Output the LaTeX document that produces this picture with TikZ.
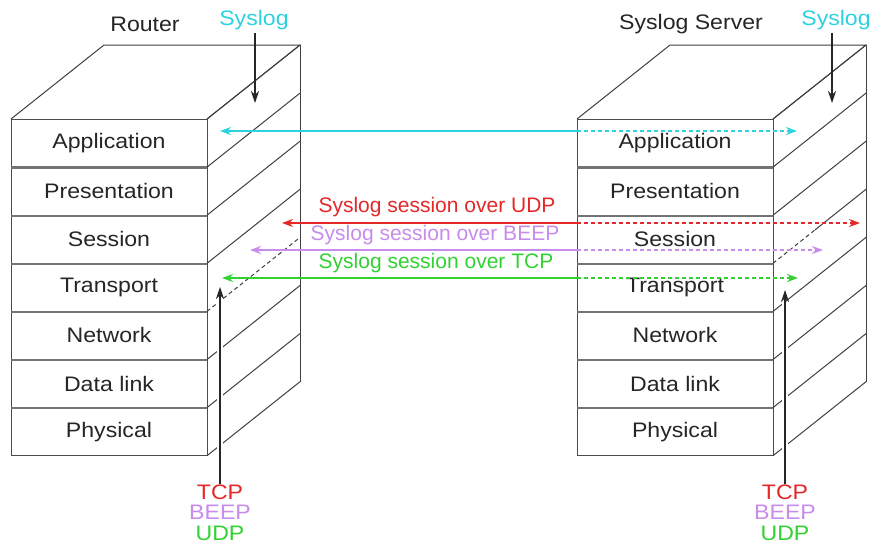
\documentclass[tikz,border=0pt]{standalone}
\usepackage{fontspec}
\setmainfont{Liberation Sans}
\newfontfamily\widefont{Liberation Sans}[FakeStretch=1.1]
\usetikzlibrary{arrows.meta}
\definecolor{cy}{RGB}{45,210,225}
\definecolor{rd}{RGB}{228,40,40}
\definecolor{pu}{RGB}{200,140,235}
\definecolor{gr}{RGB}{50,210,50}
\tikzset{
  layer/.style={draw=black!70, line width=0.9pt, minimum width=196pt, minimum height=48.1pt,
    inner sep=0pt, font=\widefont\fontsize{21}{24}\selectfont, text=black!85},
  sepline/.style={draw=black!55, line width=2.2pt},
  edgeline/.style={draw=black!75, line width=1pt},
  tip/.style={-{Stealth[length=11pt,width=8pt]}},
  blktip/.style={-{Stealth[length=12pt,width=8pt]}, line width=1.1pt, black!85},
  lbl/.style={font=\widefont\fontsize{21}{24}\selectfont, inner sep=0pt},
  sess/.style={font=\fontsize{21}{24}\selectfont, inner sep=0pt},
  dsh/.style={dash pattern=on 4pt off 3pt},
}
\begin{document}
\begin{tikzpicture}[x=1pt,y=-1pt]
\useasboundingbox[fill=white] (0,0) rectangle (877,557);

% ---------- stacks ----------
\foreach \X/\P in {11/L,577/R}{
  \draw[edgeline] (\X,119) -- (\X+93,45) -- (\X+289,45) -- (\X+196,119);
  \draw[edgeline] (\X+289,45) -- (\X+289,381.7);
  \foreach \n [count=\i from 0] in {Application,Presentation,Session,Transport,Network,Data link,Physical}{
    \node[layer] (\P\i) at (\X+98,143.05+48.1*\i) {\n};
  }
  \foreach \i in {0,...,5}{
    \draw[sepline] (\P\i.south west) -- (\P\i.south east);
  }
}
% diagonals, left stack
\foreach \i in {0,1,2,3,5,6,7}{
  \draw[edgeline] (207,119+48.1*\i) -- (300,45+48.1*\i);
}
\draw[edgeline,dsh] (207,311.4) -- (300,237.4);
% diagonals, right stack
\foreach \i in {0,1,2,4,5,6,7}{
  \draw[edgeline] (773,119+48.1*\i) -- (866,45+48.1*\i);
}
\draw[edgeline,dsh] (773,263.3) -- (815,229.9);
\draw[edgeline] (815,229.9) -- (866,189.3);

% ---------- top labels ----------
\node[lbl, text=black!85] (router) at (145,24) {Router};
\node[lbl, text=cy] (sysL) at (254,20) {Syslog};
\node[lbl, text=black!85] (server) at (691,24) {Syslog Server};
\node[lbl, text=cy] (sysR) at (836,20) {Syslog};
\coordinate (sysLtip) at (255,103);
\coordinate (sysRtip) at (832,103);
\draw[blktip] (sysL.south -| sysLtip) ++(0,3) -- (sysLtip);
\draw[blktip] (sysR.south -| sysRtip) ++(0,3) -- (sysRtip);

% ---------- bottom labels ----------
\node[lbl, text=rd] (tcpL) at (220,492) {TCP};
\node[lbl, text=pu] (beepL) at (220,512) {BEEP};
\node[lbl, text=gr] (udpL) at (220,533) {UDP};
\node[lbl, text=rd] (tcpR) at (785,492) {TCP};
\node[lbl, text=pu] (beepR) at (785,512) {BEEP};
\node[lbl, text=gr] (udpR) at (785,533) {UDP};
\coordinate (upLtip) at (220,287);
\coordinate (upRtip) at (785,290);
\draw[white, line width=6pt] (220,300) -- (220,462);
\draw[white, line width=6pt] (785,302) -- (785,462);
\draw[blktip] (tcpL.north) -- (upLtip);
\draw[blktip] (tcpR.north) -- (upRtip);

% ---------- session arrows ----------
\coordinate (cyL) at (220,131);  \coordinate (cyM) at (577,131);  \coordinate (cyR) at (797,131);
\coordinate (rdL) at (282,223);  \coordinate (rdM) at (577,223);  \coordinate (rdR) at (860,223);
\coordinate (puL) at (250,250);  \coordinate (puM) at (577,250);  \coordinate (puR) at (823,250);
\coordinate (grL) at (222,278);  \coordinate (grM) at (577,278);  \coordinate (grR) at (798,278);

\draw[cy, line width=1.5pt, tip] (cyM) -- (cyL);
\draw[cy, line width=1.5pt, tip, dsh] (cyM) -- (cyR);
\draw[rd, line width=2.2pt, tip] (rdM) -- (rdL);
\draw[rd, line width=2.2pt, tip, dsh] (rdM) -- (rdR);
\draw[pu, line width=1.6pt, tip] (puM) -- (puL);
\draw[pu, line width=1.6pt, tip, dsh] (puM) -- (puR);
\draw[gr, line width=2.2pt, tip] (grM) -- (grL);
\draw[gr, line width=2.2pt, tip, dsh] (grM) -- (grR);

\node[sess, text=rd] (udpS) at (437,207) {Syslog session over UDP};
\node[sess, text=pu] (beepS) at (435,235) {Syslog session over BEEP};
\node[sess, text=gr] (tcpS) at (436,263) {Syslog session over TCP};
\end{tikzpicture}
\end{document}
